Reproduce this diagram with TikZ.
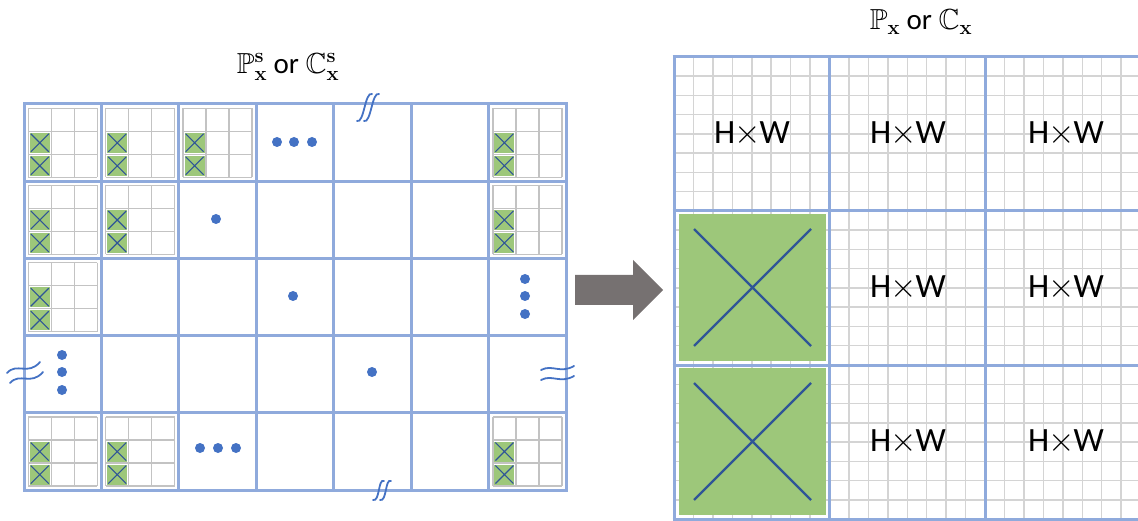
\RequirePackage{fix-cm}
\documentclass[tikz,border=0pt]{standalone}
\usepackage{amssymb}
\usepackage[no-math]{fontspec}
\newfontfamily\calibri{Carlito}
\definecolor{gridblue}{HTML}{8FAADC}
\definecolor{dotblue}{HTML}{4472C4}
\definecolor{crossblue}{HTML}{2F5597}
\definecolor{leaf}{RGB}{157,199,122}
\definecolor{minor}{RGB}{195,195,195}
\definecolor{paper}{RGB}{212,212,212}
\definecolor{arrowgray}{HTML}{767171}
\tikzset{
  major/.style={draw=gridblue, line width=3pt},
  fine/.style={draw=minor, line width=1.5pt},
  finer/.style={draw=paper, line width=1.5pt},
  breakmark/.style={draw=dotblue, line width=1.8pt, line cap=round},
  crossline/.style={draw=crossblue, line width=1.1pt},
  bigcross/.style={draw=crossblue, line width=2.4pt},
  hw/.style={font=\calibri\fontsize{34}{40}\selectfont},
  caption/.style={font=\calibri\fontsize{29}{34}\selectfont},
}
\newcommand\hxw{H\kern-1pt$\times$\kern-1pt W}
\begin{document}
\begin{tikzpicture}[x=1pt,y=-1pt]
  \useasboundingbox (0,0) rectangle (1138,521);

  \foreach \c/\r in {0/0,1/0,2/0,6/0,0/1,1/1,6/1,0/2,0/4,1/4,6/4} {
    \begin{scope}[shift={(28.3+\c*77.43, 108.3+\r*77.2)}]
      \foreach \k in {1,2} {
        \fill[leaf] (1.5,\k*23+1.5) rectangle (21.5,\k*23+21.5);
        \draw[crossline] (2.5,\k*23+2.5) -- (20.5,\k*23+20.5)
                         (2.5,\k*23+20.5) -- (20.5,\k*23+2.5);
      }
      \foreach \t in {0,23,46,69} {
        \draw[fine] (\t,0) -- (\t,69);
        \draw[fine] (0,\t) -- (69,\t);
      }
    \end{scope}
  }
  \foreach \i in {1,...,6}
    \draw[major] (24+\i*77.43,104) -- (24+\i*77.43,490);
  \foreach \j in {1,...,4}
    \draw[major] (24,104+\j*77.2) -- (566,104+\j*77.2);
  \draw[major] (24,104) rectangle (566,490);

  \foreach \p in {(277,142),(294,142),(312,142),(216,219),(293,296),
                  (525,279),(525,296),(525,314),(62,355),(62,372),(62,390),
                  (372,372),(200,448),(218,448),(236,448)}
    \fill[dotblue] \p circle (5);

  \draw[breakmark] (357,121) .. controls (364,124) and (365,91) .. (372,94);
  \draw[breakmark] (364,121) .. controls (371,124) and (372,91) .. (379,94);
  \draw[breakmark] (373,500) .. controls (380,502) and (378,478) .. (384,481);
  \draw[breakmark] (380,500) .. controls (387,502) and (385,478) .. (391,481);
  \draw[breakmark] (7,373) .. controls (17,362) and (28,376) .. (40,362);
  \draw[breakmark] (10,383) .. controls (20,372) and (31,386) .. (43,372);
  \draw[breakmark] (541,370) .. controls (552,364) and (560,374) .. (574,366);
  \draw[breakmark] (541,380) .. controls (552,374) and (560,384) .. (574,376);

  \node[caption] (sampled) at (288,67)
    {$\mathbb{P}^{\mathbf{s}}_{\mathbf{x}}$ or $\mathbb{C}^{\mathbf{s}}_{\mathbf{x}}$};

  \fill[arrowgray] (575,275) -- (633,275) -- (633,260) -- (663,290)
    -- (633,320) -- (633,305) -- (575,305) -- cycle;

  \begin{scope}
    \clip (0,0) rectangle (1138,521);
    \foreach \i in {1,...,24}
      \draw[finer] (674+\i*19.44,57) -- (674+\i*19.44,519);
    \foreach \j in {1,...,23}
      \draw[finer] (674,57+\j*19.25) -- (1150,57+\j*19.25);
    \foreach \y in {214,368} {
      \fill[leaf] (679,\y) rectangle (826,\y+147);
      \draw[bigcross] (694,\y+15) -- (811,\y+132) (694,\y+132) -- (811,\y+15);
    }
    \foreach \i in {0,1,2}
      \draw[major] (674+\i*155.5,57) -- (674+\i*155.5,519);
    \foreach \j in {0,...,3}
      \draw[major] (672.5,57+\j*154) -- (1150,57+\j*154);
  \end{scope}

  \node[caption] (full) at (921,22)
    {$\mathbb{P}_{\mathbf{x}}$ or $\mathbb{C}_{\mathbf{x}}$};

  \node[hw] (hwa) at (752,134) {\hxw};
  \node[hw] (hwb) at (908,134) {\hxw};
  \node[hw] (hwc) at (1066,134) {\hxw};
  \node[hw] (hwd) at (908,288) {\hxw};
  \node[hw] (hwe) at (1066,288) {\hxw};
  \node[hw] (hwf) at (908,442) {\hxw};
  \node[hw] (hwg) at (1066,442) {\hxw};
\end{tikzpicture}
\end{document}
